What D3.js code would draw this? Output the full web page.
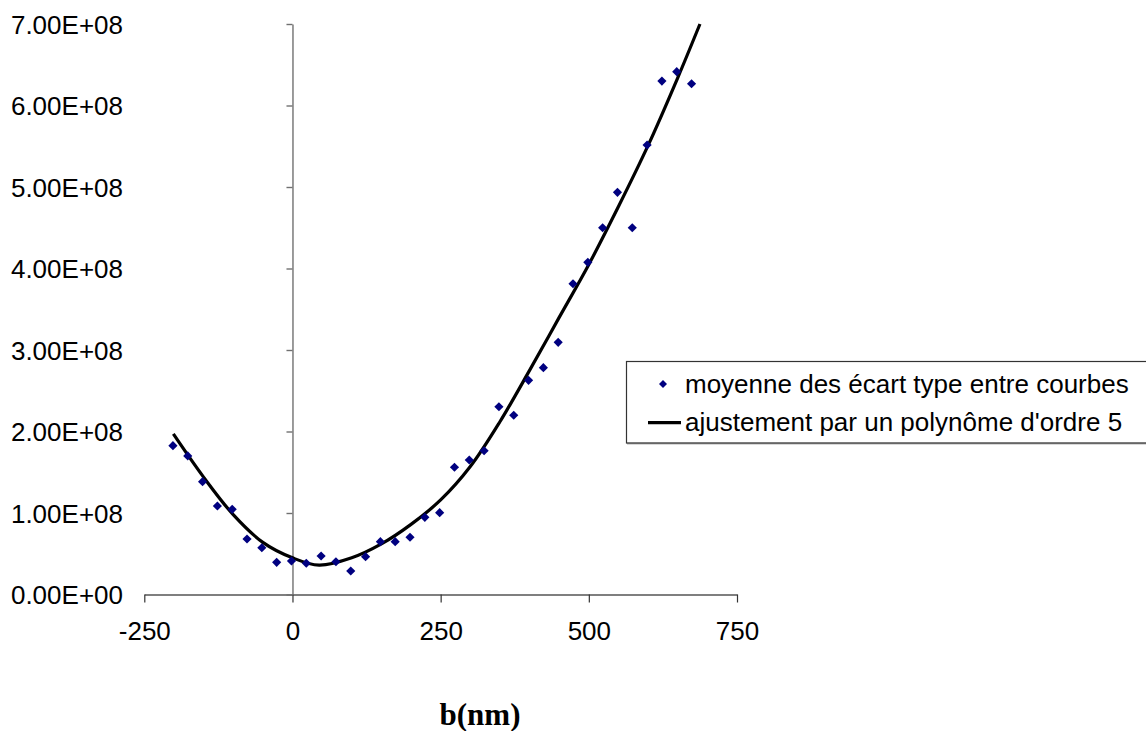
<!DOCTYPE html>
<html>
<head>
<meta charset="utf-8">
<script src="https://cdn.jsdelivr.net/npm/d3@7/dist/d3.min.js"></script>
<style>
html,body{margin:0;padding:0;background:#fff;}
svg{display:block;}
</style>
</head>
<body>
<svg id="chart" width="1146" height="731"></svg>
<script>
// ---- data ----
const pointX = [-200,-175,-150,-125,-100,-75,-50,-25,0,25,50,75,100,125,150,175,200,225,250,275,300,325,350,375,400,425,450,475,500,525,550,575,600,625,650,675];
const pointY = [1.826e8,1.70e8,1.384e8,1.086e8,1.045e8,0.681e8,0.574e8,0.395e8,0.411e8,0.383e8,0.472e8,0.402e8,0.288e8,0.464e8,0.648e8,0.648e8,0.702e8,0.947e8,1.004e8,1.561e8,1.650e8,1.764e8,2.304e8,2.199e8,2.628e8,2.783e8,3.094e8,3.813e8,4.076e8,4.50e8,4.935e8,4.50e8,5.515e8,6.30e8,6.415e8,6.267e8];
const fitX = [-201,-150,-100,-50,0,45,100,150,200,250,300,350,400,450,500,550,600,650,687.5];
const fitY = [1.97e8,1.44e8,0.98e8,0.64e8,0.45e8,0.36e8,0.45e8,0.62e8,0.86e8,1.16e8,1.57e8,2.12e8,2.75e8,3.40e8,4.05e8,4.76e8,5.51e8,6.34e8,7.0e8];
const xTicks = [-250,0,250,500,750];
const yTicks = [0,1e8,2e8,3e8,4e8,5e8,6e8,7e8];
const legendLabels = ["moyenne des écart type entre courbes","ajustement par un polynôme d'ordre 5"];
const xTitle = "b(nm)";

const svg = d3.select("#chart");
const x = d3.scaleLinear().domain([-250,750]).range([144.3,737]);
const y = d3.scaleLinear().domain([0,7e8]).range([594.5,24]);
const font = "'Liberation Sans', Arial, sans-serif";

// x axis
const xAxis = svg.append("g").attr("transform",`translate(0,${y(0)})`)
  .call(d3.axisBottom(x).tickValues(xTicks).tickSize(8).tickSizeOuter(0).tickPadding(19).tickFormat(d=>String(d)));
xAxis.select(".domain").attr("stroke","#000").attr("stroke-width",1.2);
xAxis.selectAll(".tick line").attr("stroke","#333").attr("stroke-width",1.2);
xAxis.selectAll(".tick text").attr("font-family",font).attr("font-size",26).attr("fill","#000");

// y axis (crosses at x=0)
const yAxis = svg.append("g").attr("transform",`translate(${x(0)},0)`)
  .call(d3.axisLeft(y).tickValues(yTicks).tickSize(6).tickSizeOuter(0).tickFormat(()=>""));
yAxis.select(".domain").attr("stroke","#707070").attr("stroke-width",1.4);
yAxis.selectAll(".tick line").attr("stroke","#707070").attr("stroke-width",1.4);

// y tick labels at low position
svg.append("g").selectAll("text").data(yTicks).join("text")
  .attr("x",123).attr("y",d=>y(d)+9.5)
  .attr("text-anchor","end")
  .attr("font-family",font).attr("font-size",26).attr("fill","#000")
  .text(d=>{const e=d===0?0:Math.floor(Math.log10(d));const m=d/Math.pow(10,e);return m.toFixed(2)+"E+"+String(e).padStart(2,"0");});

// fit curve
const line = d3.line().x(d=>x(d[0])).y(d=>y(d[1])).curve(d3.curveCatmullRom.alpha(0.5));
svg.append("path").datum(fitX.map((v,i)=>[v,fitY[i]]))
  .attr("d",line).attr("fill","none").attr("stroke","#000").attr("stroke-width",3.2);

// points
const diamond = d3.symbol().type(d3.symbolSquare).size(42);
svg.append("g").selectAll("path").data(pointX.map((v,i)=>[v,pointY[i]])).join("path")
  .attr("d",diamond)
  .attr("transform",d=>`translate(${x(d[0])-1},${y(d[1])}) rotate(45)`)
  .attr("fill","#000080");

// legend
const lg = svg.append("g");
lg.append("rect").attr("x",626.5).attr("y",361.5).attr("width",530).attr("height",81.5)
  .attr("fill","#fff").attr("stroke","#333").attr("stroke-width",1.2);
lg.append("line").attr("x1",627).attr("x2",1146).attr("y1",443.5).attr("y2",443.5).attr("stroke","#666").attr("stroke-width",1.5);
lg.append("path").attr("d",d3.symbol().type(d3.symbolSquare).size(32)).attr("transform","translate(663,384) rotate(45)").attr("fill","#000080");
lg.append("line").attr("x1",648).attr("x2",681).attr("y1",422.7).attr("y2",422.7).attr("stroke","#000").attr("stroke-width",3.2);
lg.selectAll("text").data(legendLabels).join("text")
  .attr("x",685).attr("y",(d,i)=>i===0?393:431)
  .attr("font-family",font).attr("font-size",26).attr("fill","#000")
  .text(d=>d);

// x title
svg.append("text").attr("x",480).attr("y",725).attr("text-anchor","middle")
  .attr("font-family","'Liberation Serif','Times New Roman',serif").attr("font-weight","bold").attr("font-size",31)
  .attr("fill","#000").text(xTitle);
</script>
</body>
</html>
